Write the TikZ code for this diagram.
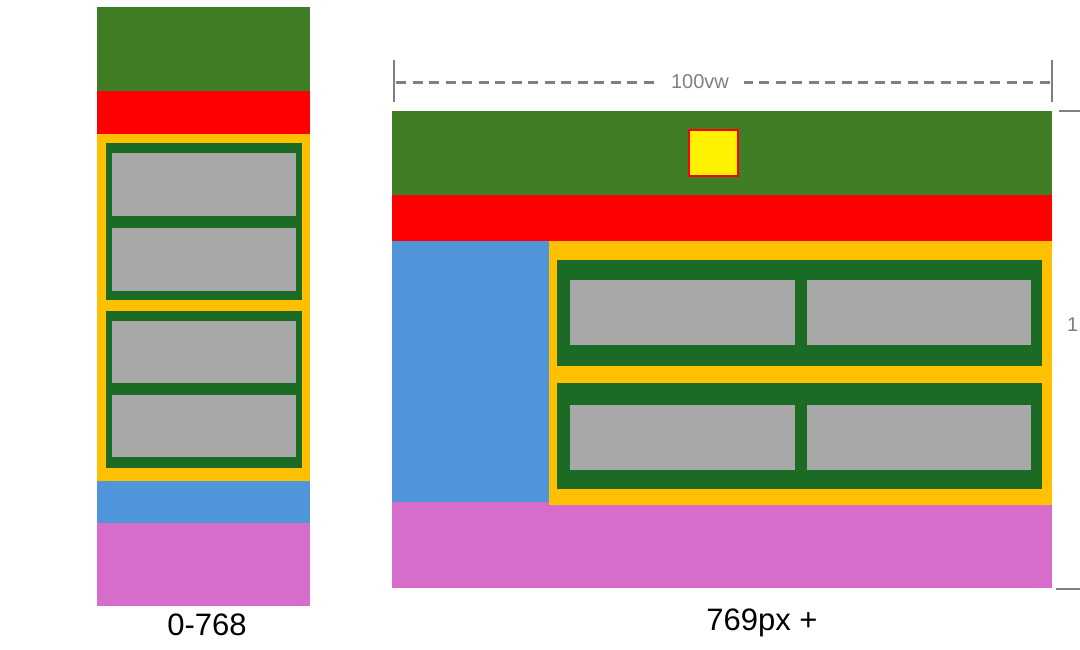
\documentclass[tikz,border=0pt]{standalone}
\usepackage{fontspec}
\setmainfont{Liberation Sans}
\definecolor{hdrgreen}{HTML}{3F7D24}
\definecolor{navred}{HTML}{FF0000}
\definecolor{wrapyel}{HTML}{FFC000}
\definecolor{rowgreen}{HTML}{1B6B24}
\definecolor{cellgrey}{HTML}{A8A8A8}
\definecolor{sideblue}{HTML}{4F95DA}
\definecolor{footpink}{HTML}{D66DCA}
\definecolor{dimgrey}{HTML}{808080}
\tikzset{
  dimline/.style={dimgrey,line width=3pt,dash pattern=on 10pt off 6.5pt},
  dimtick/.style={dimgrey,line width=2.4pt},
  lbl/.style={font=\fontsize{31}{34}\selectfont,text=black},
  dimlbl/.style={font=\fontsize{20}{23}\selectfont,text=dimgrey,fill=white,inner xsep=15pt,inner ysep=5pt}
}
\begin{document}
\begin{tikzpicture}[x=1pt,y=-1pt]
\useasboundingbox (0,0) rectangle (1080,650);
\fill[white] (0,0) rectangle (1080,650);
% ---------- small layout ----------
\fill[hdrgreen] (97,7) rectangle (310,91);
\fill[navred] (97,91) rectangle (310,134);
\fill[wrapyel] (97,134) rectangle (310,481);
\fill[rowgreen] (106,143) rectangle (302,300);
\fill[cellgrey] (112,153) rectangle (296,216);
\fill[cellgrey] (112,228) rectangle (296,291);
\fill[rowgreen] (106,311) rectangle (302,468);
\fill[cellgrey] (112,321) rectangle (296,383);
\fill[cellgrey] (112,395) rectangle (296,457);
\fill[sideblue] (97,481) rectangle (310,523);
\fill[footpink] (97,523) rectangle (310,606);
\node[lbl] (l1) at (207,625) {0-768};
% ---------- large layout ----------
\fill[hdrgreen] (392,111) rectangle (1052,195);
\fill[navred] (392,195) rectangle (1052,241);
\fill[footpink] (392,502) rectangle (1052,588);
\fill[sideblue] (392,241) rectangle (549,502);
\fill[wrapyel] (549,241) rectangle (1052,505);
\fill[rowgreen] (557,260) rectangle (1042,366);
\fill[cellgrey] (570,280) rectangle (795,345);
\fill[cellgrey] (807,280) rectangle (1031,345);
\fill[rowgreen] (557,383) rectangle (1042,489);
\fill[cellgrey] (570,405) rectangle (795,470);
\fill[cellgrey] (807,405) rectangle (1031,470);
\draw[navred,line width=2pt,fill=yellow] (689,130) rectangle (738,176);
\node[lbl] (l2) at (762,623) {769px +};
% ---------- dimensions ----------
\coordinate (wa) at (396,83);
\coordinate (wb) at (1051,83);
\draw[dimline] (wa) -- (wb);
\draw[dimtick] (394,60) -- (394,102);
\draw[dimtick] (1052,60) -- (1052,102);
\node[dimlbl] (vw) at (700,82) {100vw};
\draw[dimtick] (1059,111) -- (1080,111);
\draw[dimtick] (1056,589) -- (1080,589);
\node[font=\fontsize{20}{23}\selectfont,text=dimgrey,anchor=west,inner sep=0pt] (vh) at (1067,325) {1};
\end{tikzpicture}
\end{document}
